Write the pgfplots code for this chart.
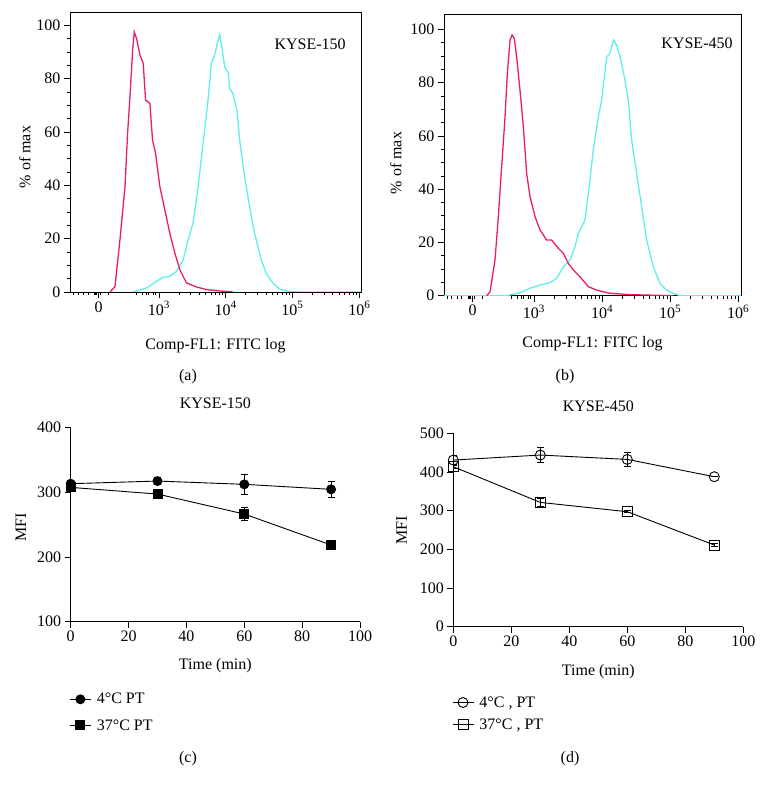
\documentclass[border=0pt]{standalone}
\usepackage{fontspec}
\setmainfont{Liberation Serif}
\usepackage{pgfplots}
\pgfplotsset{compat=1.18}

\definecolor{flred}{RGB}{235,30,95}
\definecolor{flcyan}{RGB}{95,238,238}
\newcommand\ff{\fontsize{16bp}{18bp}\selectfont}

\pgfplotsset{
  panel/.style={
    scale only axis,
    font=\ff,
    tick label style={font=\ff},
    label style={font=\ff},
    title style={font=\ff},
    /pgf/number format/assume math mode=true,
    tick align=outside,
    tick pos=left,
    axis line style={line width=0.8bp},
    every tick/.style={black, line width=0.7bp},
    major tick length=6bp,
    minor tick length=3bp,
  },
  flow/.style={
    panel,
    ymin=0, ymax=105,
    ytick={0,20,...,100},
    minor y tick num=3,
    xtick={2.1,3,4,5,6},
    xticklabels={0,10\textsuperscript{3},10\textsuperscript{4},10\textsuperscript{5},10\textsuperscript{6}},
    minor xtick={1.72,1.79,1.87,1.94,2.03,2.05,2.07,2.09,2.12,2.24,2.67,2.75,2.81,2.85,2.91,2.95,
      3.301,3.477,3.602,3.699,3.778,3.845,3.903,3.954,
      4.301,4.477,4.602,4.699,4.778,4.845,4.903,4.954,
      5.301,5.477,5.602,5.699,5.778,5.845,5.903,5.954},
    ylabel={\% of max},
    xlabel={Comp-FL1: FITC log},
  },
  mfi/.style={
    panel,
    axis lines*=left,
    xmin=0, xmax=100,
    xtick={0,20,...,100},
    xlabel={Time (min)},
    ylabel={MFI},
    legend cell align=left,
    legend style={draw=none, fill=none, inner sep=0pt, font=\ff,
      nodes={inner sep=1.5bp},
      /tikz/every odd column/.append style={column sep=4bp}},
    legend image code/.code={\draw[mark repeat=2,mark phase=2,##1]
      plot coordinates {(0bp,0bp)(10.5bp,0bp)(21bp,0bp)};},
  },
}

\begin{document}
\begin{tikzpicture}
\path[use as bounding box] (0bp,0bp) rectangle (765bp,790bp);

% (a) KYSE-150 histogram
\begin{axis}[flow, at={(70bp,498bp)}, anchor=south west,
  width=291bp, height=280bp, xmin=1.67, xmax=6.025,
  xlabel style={at={(axis description cs:0.5,-0.192)}, anchor=center},
  ylabel style={at={(axis description cs:-0.155,0.482)}, anchor=center}]
\addplot[flcyan, line width=1.3bp] coordinates {
 (2.617,0) (2.816,1.5) (2.965,4) (3.065,5.5) (3.164,5.9) (3.264,7.7) (3.363,12)
 (3.438,19.6) (3.512,25.8) (3.587,39.5) (3.662,55.7) (3.736,72) (3.786,85.7)
 (3.836,89) (3.886,94.4) (3.910,96.5) (3.950,90.6) (3.985,84.4) (4.035,82.5)
 (4.060,76.3) (4.109,74.4) (4.169,68) (4.209,57) (4.284,43) (4.358,32) (4.433,22)
 (4.532,12) (4.607,7) (4.706,3.4) (4.806,1.1) (4.955,0.2) (5.104,0) (6.025,0)};
\addplot[flred, line width=1.3bp] coordinates {
 (2.269,0) (2.343,2) (2.418,19.6) (2.493,39.5) (2.532,59.5) (2.567,73) (2.607,90.6)
 (2.632,97.5) (2.667,95) (2.716,89) (2.766,85.7) (2.801,72) (2.866,70.7) (2.905,57)
 (2.950,52) (3.015,39.5) (3.100,29.5) (3.164,22) (3.239,14.6) (3.313,8.4) (3.413,3.4)
 (3.562,1.9) (3.711,0.9) (3.910,0.4) (4.109,0)};
\node[font=\ff] at (rel axis cs:0.825,0.886) {KYSE-150};
\end{axis}

% (b) KYSE-450 histogram
\begin{axis}[flow, at={(444bp,494.3bp)}, anchor=south west,
  width=297bp, height=281.7bp, xmin=1.678, xmax=6.04, ymax=105.8,
  xlabel style={at={(axis description cs:0.5,-0.172)}, anchor=center},
  ylabel style={at={(axis description cs:-0.162,0.471)}, anchor=center}]
\addplot[flcyan, line width=1.3bp] coordinates {
 (1.678,0) (2.599,0) (2.794,1.1) (2.941,2.8) (3.088,4) (3.235,4.9) (3.333,6.5)
 (3.431,10.9) (3.529,13.4) (3.602,18.4) (3.651,23.4) (3.700,25.9) (3.749,28.4)
 (3.798,38.4) (3.871,54.7) (3.945,67.2) (3.994,73.5) (4.067,89.7) (4.116,91)
 (4.166,96) (4.214,94.1) (4.264,89.7) (4.336,81) (4.385,73.5) (4.434,58.4)
 (4.508,45.9) (4.581,33.4) (4.654,20.9) (4.752,10.9) (4.850,4.6) (4.948,2.1)
 (5.046,0.9) (5.144,0) (6.04,0)};
\addplot[flred, line width=1.3bp] coordinates {
 (2.305,0) (2.354,1.5) (2.427,13.4) (2.476,29.7) (2.525,48.4) (2.574,67) (2.608,83.5)
 (2.648,96) (2.677,97.9) (2.711,96.6) (2.745,89.7) (2.794,77.2) (2.843,63.5)
 (2.892,45.9) (2.941,37.2) (3.015,29.7) (3.088,24.7) (3.186,20.9) (3.259,20.9)
 (3.357,17.8) (3.431,15.9) (3.504,12.1) (3.578,9.6) (3.675,7.1) (3.798,3.4)
 (3.920,2.1) (4.116,0.9) (4.410,0.4) (5.046,0)};
\node[font=\ff] at (rel axis cs:0.852,0.897) {KYSE-450};
\end{axis}

% (c) KYSE-150 MFI
\begin{axis}[mfi, at={(70.7bp,168.3bp)}, anchor=south west,
  width=289.3bp, height=194bp, ymin=100, ymax=400, ytick={100,200,300,400},
  title={KYSE-150},
  title style={at={(axis description cs:0.5,1.095)}, anchor=center},
  xlabel style={at={(axis description cs:0.5,-0.228)}, anchor=center},
  ylabel style={at={(axis description cs:-0.172,0.488)}, anchor=center},
  legend style={at={(axis description cs:-0.005,-0.36)}, anchor=north west, row sep=11bp}]
\addplot[black, line width=0.9bp, mark=*, mark size=4.5bp,
  error bars/.cd, y dir=both, y explicit,
  error bar style={line width=0.9bp},
  error mark options={rotate=90, mark size=3.5bp, line width=0.9bp}]
  coordinates {(0,313.4)+-(0,5) (30,317.5)+-(0,5) (60,312.4)+-(0,15) (90,304.7)+-(0,12)};
\addlegendentry{4°C PT}
\addplot[black, line width=0.9bp, mark=square*, mark size=4.5bp,
  error bars/.cd, y dir=both, y explicit,
  error bar style={line width=0.9bp},
  error mark options={rotate=90, mark size=3.5bp, line width=0.9bp}]
  coordinates {(0,307.7)+-(0,4) (30,297.4)+-(0,3) (60,266.5)+-(0,10) (90,218.6)+-(0,3)};
\addlegendentry{37°C PT}
\end{axis}

% (d) KYSE-450 MFI
\begin{axis}[mfi, at={(453.3bp,163.3bp)}, anchor=south west,
  width=290bp, height=193.3bp, ymin=0, ymax=500, ytick={0,100,...,500},
  title={KYSE-450},
  title style={at={(axis description cs:0.5,1.11)}, anchor=center},
  xlabel style={at={(axis description cs:0.5,-0.232)}, anchor=center},
  ylabel style={at={(axis description cs:-0.178,0.5)}, anchor=center},
  legend style={at={(axis description cs:-0.005,-0.352)}, anchor=north west, row sep=7bp}]
\addplot[black, line width=0.9bp, mark=o, mark size=5bp,
  error bars/.cd, y dir=both, y explicit,
  error bar style={line width=0.9bp},
  error mark options={rotate=90, mark size=3.5bp, line width=0.9bp}]
  coordinates {(0,431)+-(0,13) (30,444)+-(0,20) (60,432.7)+-(0,18) (90,388)+-(0,0)};
\addlegendentry{4°C , PT}
\addplot[black, line width=0.9bp, mark=square, mark size=5bp,
  error bars/.cd, y dir=both, y explicit,
  error bar style={line width=0.9bp},
  error mark options={rotate=90, mark size=3.5bp, line width=0.9bp}]
  coordinates {(0,413.8)+-(0,5) (30,321.5)+-(0,10) (60,297.4)+-(0,3) (90,211.2)+-(0,3)};
\addlegendentry{37°C , PT}
\end{axis}

\node[font=\ff] at (188bp,413bp) {(a)};
\node[font=\ff] at (565bp,413bp) {(b)};
\node[font=\ff] at (188bp,31bp) {(c)};
\node[font=\ff] at (570bp,31bp) {(d)};
\end{tikzpicture}
\end{document}
